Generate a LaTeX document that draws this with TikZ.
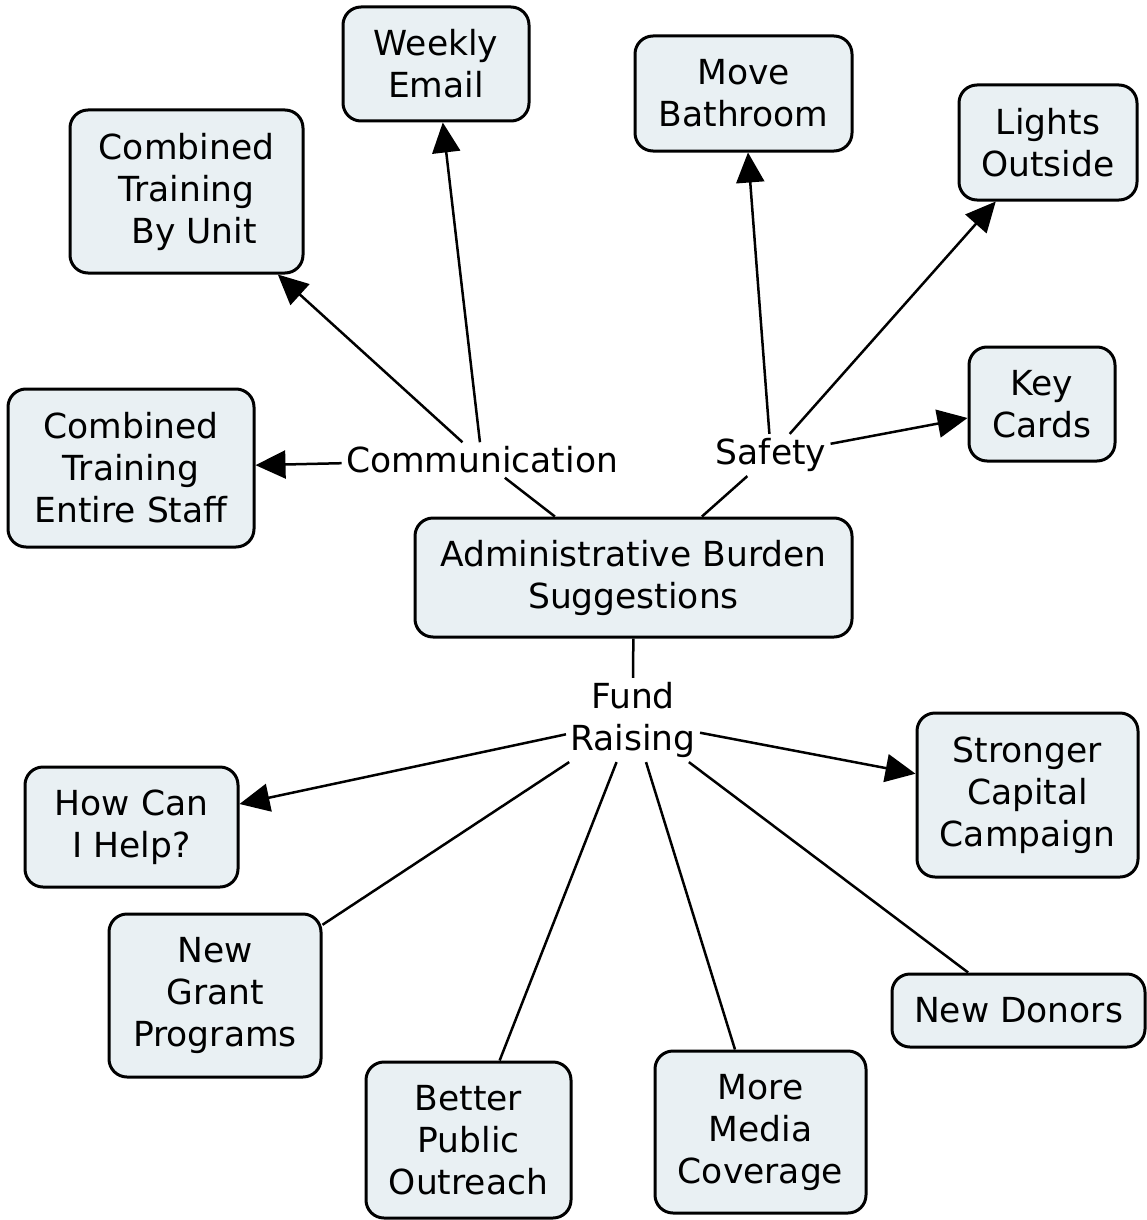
\documentclass[tikz,border=0pt]{standalone}
\usepackage{fontspec}
\setmainfont{DejaVu Sans}
\usetikzlibrary{arrows.meta}
\definecolor{boxfill}{RGB}{233,240,243}
\begin{document}
\begin{tikzpicture}[x=0.5pt,y=-0.5pt,
  mapfont/.style={font=\fontsize{17.25}{21}\selectfont},
  concept/.style={draw=black, line width=1.5pt, fill=boxfill, rounded corners=9pt,
    align=center, inner sep=0pt, mapfont},
  sz/.style 2 args={minimum width=#1*0.5pt, minimum height=#2*0.5pt},
  linker/.style={align=center, inner sep=2pt, mapfont},
  conn/.style={line width=1.25pt},
  arr/.style={conn, -{Triangle[length=15pt,width=14pt]}}
]
\useasboundingbox (0,0) rectangle (1146,1220);
\fill[white] (0,0) rectangle (1146,1220);

% concepts
\node[concept, sz={186}{114}] (email)    at (436,64)      {Weekly\\Email};
\node[concept, sz={217}{115}] (bath)     at (743.5,93.5)  {Move\\Bathroom};
\node[concept, sz={178}{115}] (lights)   at (1048,142.5)  {Lights\\Outside};
\node[concept, sz={233}{163}] (unit)     at (186.5,191.5) {Combined\\Training\\\hspace*{0.45em}By Unit};
\node[concept, sz={146}{114}] (keys)     at (1042,404)    {Key\\Cards};
\node[concept, sz={246}{158}] (staff)    at (131,468)     {Combined\\Training\\Entire Staff};
\node[concept, sz={437}{119}] (admin)    at (633.5,577.5) {Administrative Burden\\Suggestions};
\node[concept, sz={213}{120}] (help)     at (131.5,827)   {How Can\\I Help?};
\node[concept, sz={221}{164}] (capital)  at (1027.5,795)  {Stronger\\Capital\\Campaign};
\node[concept, sz={212}{163}] (grant)    at (215,995.5)   {New\\Grant\\Programs};
\node[concept, sz={253}{73}]  (donors)   at (1018.5,1010.5) {New Donors};
\node[concept, sz={205}{156}] (outreach) at (468.5,1140)  {Better\\Public\\Outreach};
\node[concept, sz={211}{162}] (media)    at (760.5,1132)  {More\\Media\\Coverage};

% linking phrases
\node[linker] (comm)   at (482,460) {Communication};
\node[linker] (safety) at (771,455) {Safety};
\node[linker] (fund)   at (633,720) {Fund\\Raising};

% connectors
\draw[conn] (admin) -- (comm);
\draw[arr] (comm) -- (staff);
\draw[arr] (comm) -- (unit);
\draw[arr] (comm) -- (email);

\draw[conn] (admin) -- (safety);
\draw[arr] (safety) -- (bath);
\draw[arr] (safety) -- (lights);
\draw[arr] (safety) -- (keys);

\draw[conn] (admin) -- (fund);
\draw[arr] (fund) -- (help);
\draw[arr] (fund) -- (capital);
\draw[conn] (fund) -- (grant);
\draw[conn] (fund) -- (outreach);
\draw[conn] (fund) -- (media);
\draw[conn] (fund) -- (donors);
\end{tikzpicture}
\end{document}
